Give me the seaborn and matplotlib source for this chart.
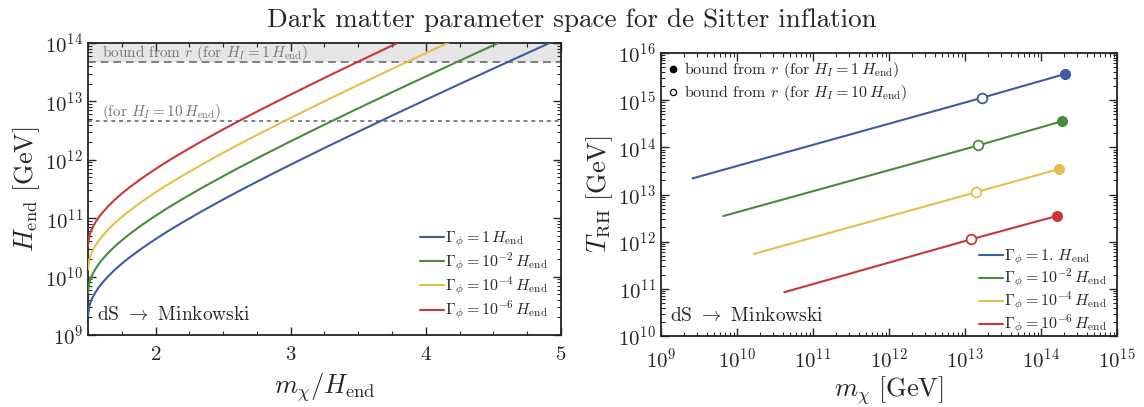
import numpy as np
import pandas as pd
import matplotlib
matplotlib.use("Agg")
import matplotlib.pyplot as plt
from matplotlib.lines import Line2D
from matplotlib.ticker import MultipleLocator, LogLocator, NullFormatter
import seaborn as sns

# ---------------- data ----------------
left_labels = [r"$\Gamma_\phi = 1\,H_{\rm end}$", r"$\Gamma_\phi = 10^{-2}\,H_{\rm end}$",
               r"$\Gamma_\phi = 10^{-4}\,H_{\rm end}$", r"$\Gamma_\phi = 10^{-6}\,H_{\rm end}$"]
right_labels = [r"$\Gamma_\phi = 1.\,H_{\rm end}$", r"$\Gamma_\phi = 10^{-2}\,H_{\rm end}$",
                r"$\Gamma_\phi = 10^{-4}\,H_{\rm end}$", r"$\Gamma_\phi = 10^{-6}\,H_{\rm end}$"]
colors = ["#3d5ca6", "#4b8a3d", "#e4c04a", "#c9373a"]

# left panel: m_chi / H_end  vs log10(H_end / GeV)
ratio = [1.5, 1.51, 1.52, 1.53, 1.54, 1.56, 1.58, 1.6, 1.65, 1.7,
         1.75, 1.8, 1.9, 2.0, 2.1, 2.2, 2.35, 2.5, 2.6, 2.75,
         2.85, 3.0, 3.25, 3.5, 3.75, 4.0, 4.25, 4.5, 5.0]
logH_G1 = [9.320, 9.493, 9.566, 9.622, 9.669, 9.748, 9.816, 9.877, 10.007, 10.120,
           10.221, 10.315, 10.486, 10.643, 10.790, 10.929, 11.129, 11.320, 11.444, 11.625,
           11.743, 11.918, 12.203, 12.482, 12.757, 13.028, 13.297, 13.563, 14.090]
logH_G2 = [9.720, 9.893, 9.966, 10.022, 10.069, 10.148, 10.216, 10.277, 10.407, 10.520,
           10.621, 10.715, 10.886, 11.043, 11.190, 11.329, 11.529, 11.720, 11.844, 12.025,
           12.143, 12.318, 12.603, 12.882, 13.157, 13.428, 13.697, 13.963, 14.490]
logH_G4 = [10.120, 10.293, 10.366, 10.422, 10.469, 10.548, 10.616, 10.677, 10.807, 10.920,
           11.021, 11.115, 11.286, 11.443, 11.590, 11.729, 11.929, 12.120, 12.244, 12.425,
           12.543, 12.718, 13.003, 13.282, 13.557, 13.828, 14.097, 14.363, 14.890]
logH_G6 = [10.520, 10.693, 10.766, 10.822, 10.869, 10.948, 11.016, 11.077, 11.207, 11.320,
           11.421, 11.515, 11.686, 11.843, 11.990, 12.129, 12.329, 12.520, 12.644, 12.825,
           12.943, 13.118, 13.403, 13.682, 13.957, 14.228, 14.497, 14.763, 15.290]
bound_H1 = 4.66e13   # bound from r, H_I = 1 H_end
bound_H10 = 4.66e12  # bound from r, H_I = 10 H_end

# right panel: m_chi [GeV] vs T_RH [GeV]  (start, open circle, filled circle)
m_G1 = [2.6e9, 1.66e13, 2.08e14]
T_G1 = [2.2e13, 1.12e15, 3.6e15]
m_G2 = [6.6e9, 1.5e13, 1.9e14]
T_G2 = [3.5e12, 1.1e14, 3.6e14]
m_G4 = [1.66e10, 1.4e13, 1.75e14]
T_G4 = [5.5e11, 1.12e13, 3.5e13]
m_G6 = [4.2e10, 1.2e13, 1.6e14]
T_G6 = [8.5e10, 1.12e12, 3.5e12]

# ---------------- style ----------------
sns.set_style("ticks")
plt.rcParams.update({
    "font.family": ["cmr10", "DejaVu Serif"],
    "mathtext.fontset": "cm",
    "axes.formatter.use_mathtext": True,
    "axes.unicode_minus": False,
    "axes.linewidth": 1.3,
    "axes.edgecolor": "#222222",
    "xtick.direction": "in", "ytick.direction": "in",
    "xtick.top": True, "ytick.right": True,
    "xtick.major.size": 6, "ytick.major.size": 6,
    "xtick.minor.size": 3, "ytick.minor.size": 3,
    "xtick.major.width": 1.0, "ytick.major.width": 1.0,
    "xtick.minor.width": 0.8, "ytick.minor.width": 0.8,
    "xtick.labelsize": 15, "ytick.labelsize": 15,
})

fig = plt.figure(figsize=(11.44, 4.07), dpi=100)
axL = fig.add_axes([0.0769, 0.1769, 0.4135, 0.7174])
axR = fig.add_axes([0.5778, 0.1744, 0.3986, 0.6953])

leg_kw = dict(frameon=False, fontsize=11.5, handlelength=1.5, handletextpad=0.1)

# ---------------- left ----------------
logHs = [logH_G1, logH_G2, logH_G4, logH_G6]
dfL = pd.concat([pd.DataFrame({"ratio": ratio, "H": 10.0 ** np.array(v), "s": lab})
                 for v, lab in zip(logHs, left_labels)], ignore_index=True)
axL.axhspan(bound_H1, 1e14, color="#e6e6e6", zorder=0, lw=0)
axL.axhline(bound_H1, color="#7f7f7f", ls=(0, (4, 2.5)), lw=1.4, zorder=1)
axL.axhline(bound_H10, color="#7f7f7f", ls=(0, (2, 2)), lw=1.4, zorder=1)
sns.lineplot(data=dfL, x="ratio", y="H", hue="s", palette=colors, hue_order=left_labels,
             estimator=None, sort=False, lw=1.5, ax=axL, zorder=3)
axL.set_yscale("log")
axL.set_xlim(1.5, 5)
axL.set_ylim(1e9, 1e14)
axL.xaxis.set_major_locator(MultipleLocator(1))
axL.xaxis.set_minor_locator(MultipleLocator(0.25))
axL.yaxis.set_major_locator(LogLocator(base=10, numticks=20))
axL.yaxis.set_minor_locator(LogLocator(base=10, subs=np.arange(2, 10), numticks=20))
axL.yaxis.set_minor_formatter(NullFormatter())
axL.set_xlabel(r"$m_\chi/H_{\rm end}$", fontsize=19, labelpad=5)
axL.set_ylabel(r"$H_{\rm end}\ [\mathrm{GeV}]$", fontsize=19, labelpad=2)
axL.tick_params(axis="x", pad=8)
axL.text(0.03, 0.965, r"bound from $r$ (for $H_I = 1\,H_{\rm end}$)", transform=axL.transAxes,
         color="#777777", fontsize=11, va="center", ha="left")
axL.text(0.03, 0.765, r"(for $H_I = 10\,H_{\rm end}$)", transform=axL.transAxes,
         color="#777777", fontsize=11, va="center", ha="left")
axL.text(0.02, 0.07, r"dS $\rightarrow$ Minkowski", transform=axL.transAxes,
         fontsize=14, va="center", ha="left")
axL.legend(loc="lower right", borderaxespad=0.4, labelspacing=0.08, **leg_kw)

# ---------------- right ----------------
ms = [m_G1, m_G2, m_G4, m_G6]
Ts = [T_G1, T_G2, T_G4, T_G6]
dfR = pd.concat([pd.DataFrame({"m": m, "T": T, "s": lab})
                 for m, T, lab in zip(ms, Ts, right_labels)], ignore_index=True)
sns.lineplot(data=dfR, x="m", y="T", hue="s", palette=colors, hue_order=right_labels,
             estimator=None, sort=False, lw=1.5, ax=axR, zorder=3)
for m, T, c in zip(ms, Ts, colors):
    axR.plot([m[2]], [T[2]], marker="o", ms=7, color=c, ls="", zorder=5)
    axR.plot([m[1]], [T[1]], marker="o", ms=7, mfc="white", mec=c, mew=1.3, ls="", zorder=5)
axR.set_xscale("log")
axR.set_yscale("log")
axR.set_xlim(1e9, 1e15)
axR.set_ylim(1e10, 1e16)
for a in (axR.xaxis, axR.yaxis):
    a.set_major_locator(LogLocator(base=10, numticks=20))
    a.set_minor_locator(LogLocator(base=10, subs=np.arange(2, 10), numticks=20))
    a.set_minor_formatter(NullFormatter())
axR.set_xlabel(r"$m_\chi\ [\mathrm{GeV}]$", fontsize=19, labelpad=2)
axR.set_ylabel(r"$T_{\rm RH}\ [\mathrm{GeV}]$", fontsize=19, labelpad=2)
axR.tick_params(axis="x", pad=8)
axR.text(0.02, 0.07, r"dS $\rightarrow$ Minkowski", transform=axR.transAxes,
         fontsize=14, va="center", ha="left")
legR = axR.legend(loc="lower right", bbox_to_anchor=(1.0, -0.035), borderaxespad=0.2,
                  labelspacing=0.0, **leg_kw)
axR.add_artist(legR)
mk_handles = [Line2D([], [], marker="o", color="k", ls="", ms=4.5),
              Line2D([], [], marker="o", mfc="white", mec="k", mew=0.9, color="k", ls="", ms=4.5)]
axR.legend(mk_handles, [r"bound from $r$ (for $H_I = 1\,H_{\rm end}$)",
                        r"bound from $r$ (for $H_I = 10\,H_{\rm end}$)"],
           loc="upper left", frameon=False, fontsize=11.5, handlelength=0.6,
           handletextpad=0.4, labelspacing=0.2, borderaxespad=0.05)

for ax in (axL, axR):
    for sp in ax.spines.values():
        sp.set_visible(True)

fig.text(0.5, 0.951, "Dark matter parameter space for de Sitter inflation",
         ha="center", va="center", fontsize=19.5)

fig.savefig("out.png", dpi=100)
